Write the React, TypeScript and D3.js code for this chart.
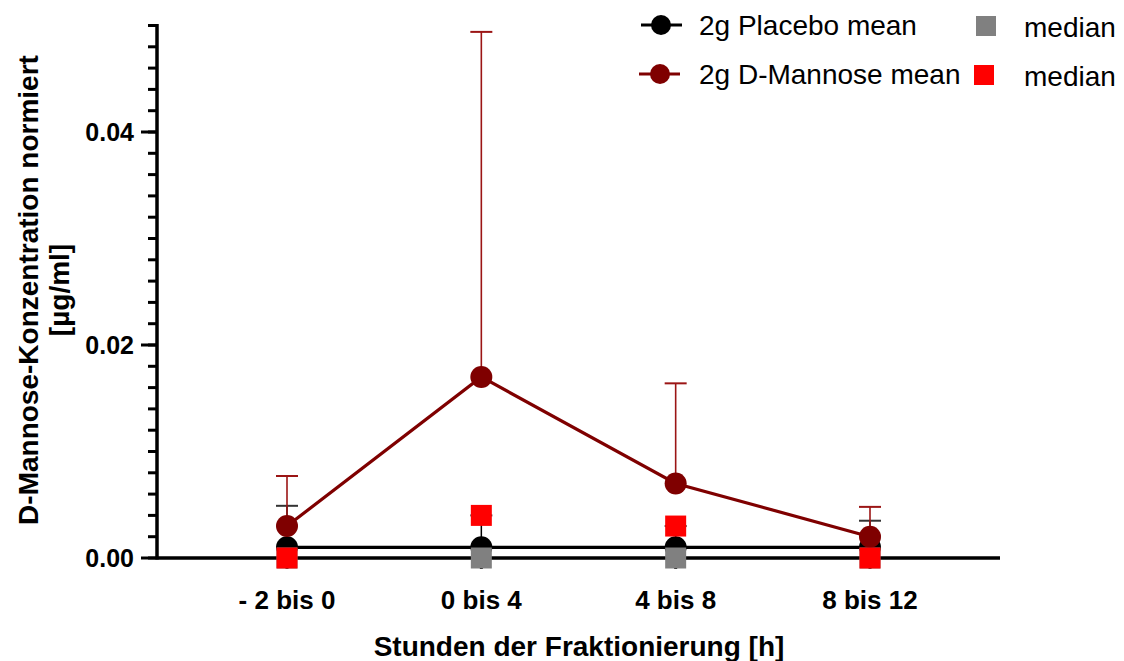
import React from "react";
import * as d3 from "d3";

const categories = ["- 2 bis 0", "0 bis 4", "4 bis 8", "8 bis 12"];
const placeboMean = [0.001, 0.001, 0.001, 0.001];
const placeboSD = [0.0039, 0.003, 0.002, 0.0025];
const placeboMedian = [0, 0, 0, 0];
const mannoseMean = [0.003, 0.017, 0.007, 0.002];
const mannoseSD = [0.0047, 0.0324, 0.0094, 0.0028];
const mannoseMedian = [0, 0.004, 0.003, 0];
const yMajorTicks = [0, 0.02, 0.04];
const yMinorTicks = d3.range(0, 0.0501, 0.002);

const W = 1124, H = 661;
const FONT = "'Liberation Sans', Arial, Helvetica, sans-serif";
const DARKRED = "#7f0000";

export default function App() {
  const x = d3.scalePoint<string>().domain(categories).range([287, 870]);
  const y = d3.scaleLinear().domain([0, 0.05]).range([558, 25.5]);
  const axisLeft = 157, axisRight = 1000;
  const line = d3.line<number>().x((_, i) => x(categories[i])!).y((d) => y(d));
  const sq = 21, r = 11, cap = 11;

  return (
    <svg width={W} height={H} style={{ position: "absolute", left: 0, top: 0, background: "#fff" }} fontFamily={FONT}>
      {/* Y axis */}
      <line x1={axisLeft} x2={axisLeft} y1={y(0.05) - 1.5} y2={y(0) + 1.5} stroke="#000" strokeWidth={3.5} />
      {yMinorTicks.map((t, i) => (
        <line key={"mi" + i} x1={axisLeft - 9} x2={axisLeft} y1={y(t)} y2={y(t)} stroke="#000" strokeWidth={3} />
      ))}
      {yMajorTicks.map((t, i) => (
        <g key={"ma" + i}>
          <line x1={axisLeft - 16} x2={axisLeft} y1={y(t)} y2={y(t)} stroke="#000" strokeWidth={3} />
          <text x={axisLeft - 23} y={y(t)} dy="0.36em" textAnchor="end" fontSize={25} fontWeight="bold">
            {d3.format(".2f")(t)}
          </text>
        </g>
      ))}
      {/* X axis */}
      <line x1={axisLeft} x2={axisRight} y1={y(0)} y2={y(0)} stroke="#000" strokeWidth={3.5} />
      {categories.map((c) => (
        <g key={c}>
          <line x1={x(c)} x2={x(c)} y1={y(0)} y2={y(0) + 11} stroke="#000" strokeWidth={3} />
          <text x={x(c)} y={609} textAnchor="middle" fontSize={26} fontWeight="bold">{c}</text>
        </g>
      ))}
      <text x={579} y={656} textAnchor="middle" fontSize={28} fontWeight="bold">Stunden der Fraktionierung [h]</text>
      <g transform="translate(38,290) rotate(-90)">
        <text x={0} y={0} textAnchor="middle" fontSize={28} fontWeight="bold">D-Mannose-Konzentration normiert</text>
        <text x={0} y={31} textAnchor="middle" fontSize={28} fontWeight="bold">[µg/ml]</text>
      </g>

      {/* Placebo error bars */}
      {categories.map((c, i) => (
        <g key={"pe" + i}>
          <line x1={x(c)} x2={x(c)} y1={y(placeboMean[i])} y2={y(placeboMean[i] + placeboSD[i])} stroke="#000" strokeWidth={1.5} />
          <line x1={x(c)! - cap} x2={x(c)! + cap} y1={y(placeboMean[i] + placeboSD[i])} y2={y(placeboMean[i] + placeboSD[i])} stroke="#333" strokeWidth={2} />
        </g>
      ))}
      {/* Placebo line and points */}
      <path d={line(placeboMean)!} fill="none" stroke="#000" strokeWidth={3.2} />
      {categories.map((c, i) => (
        <circle key={"pc" + i} cx={x(c)} cy={y(placeboMean[i])} r={r} fill="#000" />
      ))}
      {categories.map((c, i) => (
        <rect key={"pm" + i} x={x(c)! - sq / 2} y={y(placeboMedian[i]) - sq / 2} width={sq} height={sq} fill="#808080" />
      ))}

      {/* Mannose error bars */}
      {categories.map((c, i) => (
        <g key={"me" + i}>
          <line x1={x(c)} x2={x(c)} y1={y(mannoseMean[i])} y2={y(mannoseMean[i] + mannoseSD[i])} stroke="#9b1515" strokeWidth={1.6} />
          <line x1={x(c)! - cap} x2={x(c)! + cap} y1={y(mannoseMean[i] + mannoseSD[i])} y2={y(mannoseMean[i] + mannoseSD[i])} stroke="#9b1515" strokeWidth={2} />
        </g>
      ))}
      <path d={line(mannoseMean)!} fill="none" stroke={DARKRED} strokeWidth={3.2} />
      {categories.map((c, i) => (
        <circle key={"mc" + i} cx={x(c)} cy={y(mannoseMean[i])} r={r} fill={DARKRED} />
      ))}
      {categories.map((c, i) => (
        mannoseMedian[i] === 0 && placeboMedian[i] === 0 && (i === 1 || i === 2) ? null :
        <rect key={"mm" + i} x={x(c)! - sq / 2} y={y(mannoseMedian[i]) - sq / 2} width={sq} height={sq} fill="#ff0000" />
      ))}

      {/* Legend */}
      <g>
        <line x1={641} x2={682} y1={25} y2={25} stroke="#000" strokeWidth={3} />
        <circle cx={661} cy={25} r={10} fill="#000" />
        <text x={699} y={25} dy="0.35em" fontSize={28}>2g Placebo mean</text>
        <rect x={976} y={16} width={20} height={20} fill="#808080" />
        <text x={1024} y={27} dy="0.35em" fontSize={28}>median</text>

        <line x1={639} x2={680} y1={74} y2={74} stroke={DARKRED} strokeWidth={3} />
        <circle cx={660} cy={74} r={10} fill={DARKRED} />
        <text x={699} y={74} dy="0.35em" fontSize={28}>2g D-Mannose mean</text>
        <rect x={974} y={65} width={20} height={20} fill="#ff0000" />
        <text x={1024} y={76} dy="0.35em" fontSize={28}>median</text>
      </g>
    </svg>
  );
}
